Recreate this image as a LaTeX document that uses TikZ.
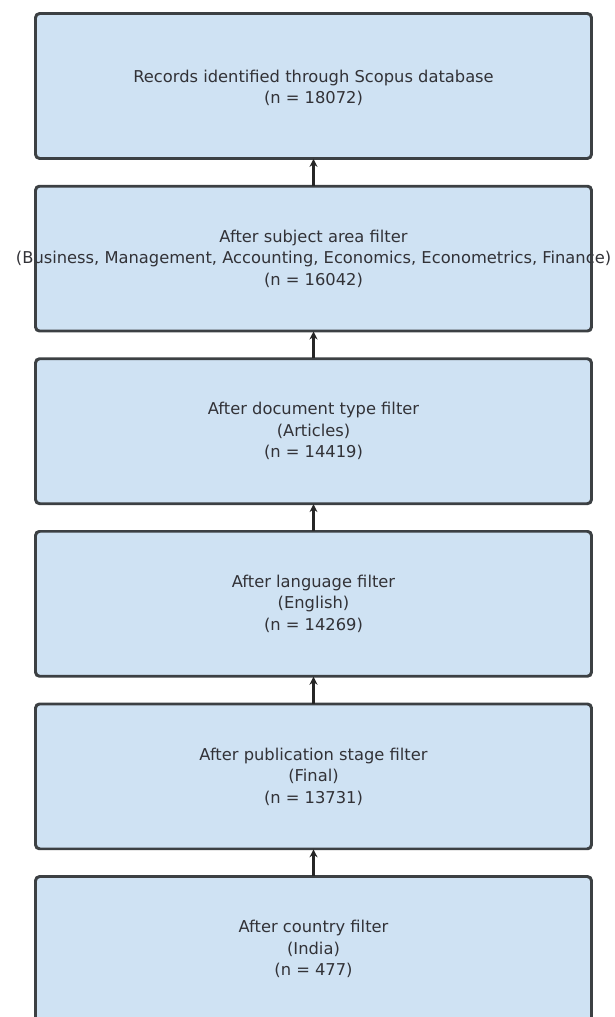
\documentclass[tikz,border=0pt]{standalone}
\usepackage{fontspec}
\setmainfont{DejaVu Sans}
\usetikzlibrary{arrows.meta}
\definecolor{boxfill}{RGB}{207,226,243}
\definecolor{boxline}{RGB}{60,64,67}
\definecolor{txt}{RGB}{50,50,55}
\tikzset{
  stagebox/.style={rectangle, rounded corners=4pt, fill=boxfill, draw=boxline, line width=1.8pt,
    minimum width=555pt, minimum height=144pt, inner sep=0pt},
  stagetext/.style={align=center, text=txt, inner sep=0pt,
    font=\fontsize{16.3}{21.5}\selectfont},
  border/.style={rounded corners=4pt, draw=boxline, line width=1.8pt},
  flow/.style={draw=black!85, line width=2.2pt, -{Stealth[length=8pt,width=8pt]}}
}
\begin{document}
\begin{tikzpicture}[x=1pt,y=-1pt]
\useasboundingbox (0,0) rectangle (614,1017);
\foreach \i/\yc in {1/86,2/258.6,3/431.2,4/603.8,5/776.4,6/949}{
  \node[stagebox] (b\i) at (313.5,\yc) {};
}
\node[stagetext] (t1) at ([yshift=-2pt]b1.center) {Records identified through Scopus database\\(n = 18072)};
\node[stagetext] (t2) at (b2) {After subject area filter\\(Business, Management, Accounting, Economics, Econometrics, Finance)\\(n = 16042)};
\node[stagetext] (t3) at (b3) {After document type filter\\(Articles)\\(n = 14419)};
\node[stagetext] (t4) at (b4) {After language filter\\(English)\\(n = 14269)};
\node[stagetext] (t5) at (b5) {After publication stage filter\\(Final)\\(n = 13731)};
\node[stagetext] (t6) at (b6) {After country filter\\(India)\\(n = 477)};
\foreach \i in {1,...,6}{
  \draw[border] (b\i.south west) rectangle (b\i.north east);
}
\draw[flow] (b2.north) -- (b1.south);
\draw[flow] (b3.north) -- (b2.south);
\draw[flow] (b4.north) -- (b3.south);
\draw[flow] (b5.north) -- (b4.south);
\draw[flow] (b6.north) -- (b5.south);
\end{tikzpicture}
\end{document}
